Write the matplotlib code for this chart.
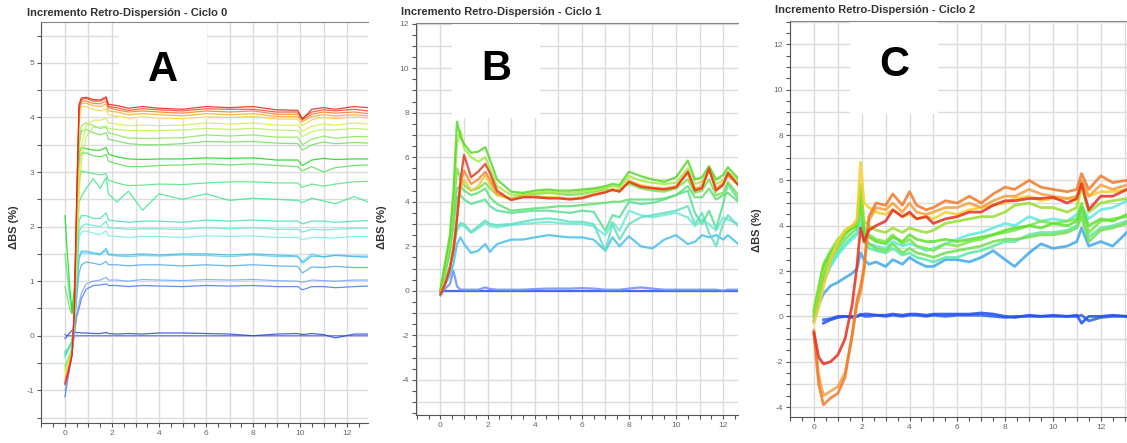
import matplotlib
matplotlib.use('Agg')
import matplotlib.pyplot as plt
from matplotlib.ticker import MultipleLocator, FuncFormatter
import numpy as np

plt.rcParams['font.family'] = ['Liberation Sans', 'DejaVu Sans']

nan = np.nan

titles = ['Incremento Retro-Dispersión - Ciclo 0',
          'Incremento Retro-Dispersión - Ciclo 1',
          'Incremento Retro-Dispersión - Ciclo 2']
letters = ['A', 'B', 'C']
ylabel = 'ΔBS (%)'

# ---- Ciclo 0 (A) ----
a_x = [0, 0.1, 0.2, 0.3, 0.4, 0.5, 0.6, 0.7, 0.9, 1.2, 1.5, 1.75, 1.85, 2.2, 2.7,
       3.3, 4.0, 5.0, 6.0, 7.0, 8.0, 9.0, 9.9, 10.1, 10.5, 11.0, 11.5, 12.3, 12.9]
a_420 = [-0.88, -0.72, -0.55, -0.35, 0.5, 2.6, 4.25, 4.36, 4.37, 4.33, 4.32, 4.38, 4.24, 4.22, 4.17,
         4.2, 4.17, 4.15, 4.2, 4.18, 4.2, 4.14, 4.13, 3.97, 4.15, 4.18, 4.15, 4.2, 4.18]
a_415 = [-0.9, -0.75, -0.56, -0.36, 0.45, 2.5, 4.2, 4.33, 4.35, 4.3, 4.3, 4.35, 4.2, 4.18, 4.13,
         4.16, 4.14, 4.12, 4.16, 4.15, 4.15, 4.1, 4.1, 3.98, 4.1, 4.14, 4.12, 4.15, 4.12]
a_410 = [-0.85, -0.7, -0.52, -0.33, 0.45, 2.4, 4.15, 4.3, 4.3, 4.26, 4.25, 4.3, 4.18, 4.14, 4.1,
         4.12, 4.1, 4.08, 4.12, 4.1, 4.12, 4.06, 4.06, 3.95, 4.06, 4.1, 4.08, 4.1, 4.07]
a_405 = [-0.8, -0.66, -0.5, -0.32, 0.4, 2.3, 4.1, 4.26, 4.26, 4.22, 4.2, 4.25, 4.12, 4.1, 4.05,
         4.07, 4.05, 4.03, 4.07, 4.05, 4.07, 4.02, 4.02, 3.92, 4.02, 4.05, 4.03, 4.05, 4.03]
a_400 = [-0.75, -0.62, -0.46, -0.3, 0.35, 2.1, 3.9, 4.2, 4.2, 4.15, 4.12, 4.15, 4.05, 4.02, 3.99,
         4.01, 3.99, 3.98, 4.01, 4.0, 4.02, 3.97, 3.97, 3.85, 3.96, 4.0, 3.98, 4.01, 3.99]
a_390 = [-0.7, -0.58, -0.44, -0.3, 0.3, 1.6, 2.9, 3.5, 3.85, 3.95, 3.95, 3.98, 3.9, 3.88, 3.85,
         3.86, 3.85, 3.86, 3.9, 3.88, 3.9, 3.86, 3.86, 3.75, 3.84, 3.88, 3.86, 3.9, 3.88]
a_380 = [-0.65, -0.55, -0.42, -0.28, 0.25, 1.3, 2.6, 3.2, 3.65, 3.82, 3.82, 3.85, 3.8, 3.78, 3.76,
         3.76, 3.76, 3.77, 3.8, 3.78, 3.8, 3.77, 3.76, 3.65, 3.74, 3.78, 3.77, 3.8, 3.78]
a_365 = [-0.6, -0.5, -0.4, -0.25, 0.3, 1.8, 3.6, 3.85, 3.9, 3.85, 3.8, 3.82, 3.72, 3.68, 3.62,
         3.62, 3.62, 3.63, 3.68, 3.66, 3.68, 3.64, 3.64, 3.5, 3.6, 3.66, 3.62, 3.65, 3.65]
a_354 = [-0.55, -0.45, -0.35, -0.2, 0.3, 1.8, 3.5, 3.75, 3.78, 3.72, 3.68, 3.72, 3.6, 3.57, 3.52,
         3.5, 3.5, 3.52, 3.56, 3.55, 3.56, 3.53, 3.52, 3.4, 3.5, 3.55, 3.52, 3.54, 3.53]
a_324 = [2.2, 1.5, 0.9, 0.42, 0.9, 2.2, 3.35, 3.45, 3.43, 3.4, 3.4, 3.45, 3.33, 3.28, 3.24,
         3.23, 3.24, 3.24, 3.26, 3.25, 3.26, 3.22, 3.22, 3.12, 3.22, 3.25, 3.23, 3.24, 3.24]
a_313 = [0.9, 0.7, 0.5, 0.4, 0.6, 1.7, 3.2, 3.35, 3.35, 3.3, 3.28, 3.32, 3.2, 3.15, 3.1,
         3.1, 3.12, 3.13, 3.15, 3.13, 3.15, 3.12, 3.1, 3.02, 3.1, 3.0, 3.08, 3.12, 3.13]
a_283 = [1.5, 1.1, 0.7, 0.5, 0.8, 1.8, 2.85, 3.02, 3.0, 2.97, 2.95, 2.97, 2.85, 2.8, 2.75,
         2.76, 2.78, 2.77, 2.8, 2.82, 2.82, 2.8, 2.8, 2.72, 2.78, 2.74, 2.78, 2.82, 2.83]
a_250 = [-0.4, -0.3, -0.2, -0.1, 0.4, 1.4, 2.45, 2.55, 2.7, 2.88, 2.7, 2.9, 2.6, 2.45, 2.65,
         2.3, 2.6, 2.5, 2.6, 2.48, 2.52, 2.5, 2.48, 2.44, 2.52, 2.47, 2.42, 2.55, 2.45]
a_210 = [-0.35, -0.28, -0.2, -0.1, 0.3, 1.2, 2.1, 2.2, 2.2, 2.15, 2.15, 2.25, 2.12, 2.1, 2.08,
         2.1, 2.1, 2.08, 2.12, 2.1, 2.12, 2.1, 2.1, 2.05, 2.1, 2.1, 2.08, 2.1, 2.11]
a_197 = [-0.35, -0.28, -0.2, -0.1, 0.28, 1.1, 1.9, 2.0, 2.05, 2.02, 2.0, 2.1, 1.98, 1.97, 1.95,
         1.96, 1.96, 1.95, 1.98, 1.96, 1.98, 1.95, 1.95, 1.9, 1.95, 1.94, 1.95, 1.97, 1.97]
a_182 = [-0.3, -0.25, -0.18, -0.1, 0.25, 1.0, 1.8, 1.9, 1.92, 1.88, 1.85, 1.92, 1.83, 1.82, 1.8,
         1.82, 1.82, 1.8, 1.83, 1.82, 1.83, 1.8, 1.8, 1.76, 1.8, 1.8, 1.79, 1.82, 1.82]
a_146 = [-0.3, -0.25, -0.2, -0.1, 0.2, 0.9, 1.45, 1.55, 1.55, 1.52, 1.5, 1.6, 1.5, 1.48, 1.48,
         1.5, 1.48, 1.5, 1.5, 1.48, 1.5, 1.48, 1.46, 1.33, 1.46, 1.45, 1.47, 1.45, 1.44]
a_144 = [-0.3, -0.25, -0.2, -0.1, 0.2, 0.9, 1.4, 1.52, 1.52, 1.5, 1.48, 1.56, 1.48, 1.46, 1.45,
         1.47, 1.46, 1.48, 1.47, 1.45, 1.48, 1.45, 1.45, 1.36, 1.5, 1.44, 1.48, 1.46, 1.46]
a_127 = [-0.3, -0.25, -0.2, -0.12, 0.15, 0.7, 1.15, 1.3, 1.35, 1.33, 1.3, 1.36, 1.3, 1.3, 1.28,
         1.3, 1.3, 1.28, 1.3, 1.28, 1.3, 1.28, 1.27, 1.15, 1.26, 1.25, 1.27, 1.25, 1.25]
a_102 = [-1.0, -0.8, -0.58, -0.35, 0.05, 0.4, 0.6, 0.78, 0.95, 1.0, 1.02, 1.07, 1.02, 1.02, 1.0,
         1.03, 1.02, 1.01, 1.03, 1.02, 1.03, 1.01, 1.0, 0.98, 1.02, 1.01, 1.0, 1.02, 1.02]
a_091 = [-1.12, -0.85, -0.6, -0.35, 0.05, 0.35, 0.5, 0.68, 0.85, 0.92, 0.93, 0.95, 0.92, 0.92, 0.9,
         0.92, 0.91, 0.9, 0.92, 0.91, 0.92, 0.9, 0.9, 0.84, 0.9, 0.9, 0.88, 0.9, 0.91]
a_004 = [-0.05, 0.0, 0.05, 0.1, 0.08, 0.05, 0.06, 0.05, 0.05, 0.04, 0.04, 0.06, 0.04, 0.03, 0.04,
         0.03, 0.05, 0.05, 0.04, 0.03, 0.0, 0.03, 0.04, 0.02, 0.04, 0.02, -0.04, 0.03, 0.03]
a_000 = [0.02, 0.0, 0.0, 0.0, 0.0, 0.0, 0.0, 0.0, 0.0, 0.0, 0.0, 0.0, 0.0, 0.0, 0.0,
         0.0, 0.0, 0.0, 0.0, 0.0, 0.0, 0.0, 0.0, 0.0, 0.0, 0.0, 0.0, 0.0, 0.0]
a_series = [a_000, a_004, a_091, a_102, a_127, a_144, a_146, a_182, a_197, a_210, a_250, a_283,
            a_313, a_324, a_354, a_365, a_380, a_390, a_400, a_405, a_410, a_415, a_420]
a_colors = ['#5868f0', '#2848e8', '#4878f0', '#78a8f8', '#50a8f0', '#60d0f4', '#38c0f0', '#78ecec',
            '#60e8d0', '#48e0b0', '#40e890', '#50e880', '#58e058', '#18d818', '#70e060', '#88e858',
            '#b8f060', '#d8ec48', '#f0d840', '#f8a83a', '#f57a30', '#f04a22', '#e8201a']

# ---- Ciclo 1 (B) ----
b_x = [0, 0.2, 0.4, 0.55, 0.7, 0.85, 1.0, 1.3, 1.6, 1.9, 2.1, 2.4, 3.0, 3.5, 4.0, 4.6, 5.0, 5.5,
       6.0, 6.5, 7.0, 7.3, 7.6, 8.0, 8.5, 9.0, 9.5, 10.0, 10.5, 10.8, 11.1, 11.4, 11.7, 12.0, 12.2, 12.64]
b_red = [-0.15, 0.3, 1.0, 1.8, 3.2, 5.0, 6.1, 5.1, 5.35, 5.7, 5.3, 4.5, 4.07, 4.2, 4.2, 4.15, 4.15, 4.1,
         4.15, 4.3, 4.42, 4.55, 4.45, 4.9, 4.67, 4.6, 4.55, 4.65, 5.35, 4.5, 4.6, 5.5, 4.5, 4.75, 5.3, 4.75]
b_green1 = [0.1, 1.3, 2.5, 4.5, 7.6, 6.9, 6.6, 6.2, 6.25, 6.45, 5.9, 5.0, 4.45, 4.4, 4.5, 4.55, 4.5, 4.5,
            4.55, 4.6, 4.7, 4.8, 4.75, 5.35, 5.15, 5.0, 4.9, 5.1, 5.85, 5.0, 5.1, 5.6, 5.0, 5.2, 5.55, 5.05]
b_ygreen = [0.05, 1.1, 2.2, 4.0, 6.6, 7.2, 6.4, 6.0, 5.8, 6.0, 5.5, 4.7, 4.3, 4.35, 4.4, 4.45, 4.4, 4.4,
            4.45, 4.55, 4.6, 4.7, 4.65, 5.15, 4.95, 4.85, 4.8, 4.85, 5.5, 4.8, 4.9, 5.45, 4.8, 4.95, 5.35, 4.95]
b_yellow = [-0.1, 0.4, 1.1, 2.0, 3.3, 4.6, 5.0, 4.5, 4.7, 5.2, 4.8, 4.3, 4.12, 4.25, 4.25, 4.2, 4.2, 4.15,
            4.2, 4.35, 4.45, 4.55, 4.5, 4.95, 4.75, 4.65, 4.6, 4.7, 5.3, 4.6, 4.7, 5.45, 4.6, 4.85, 5.2, 4.8]
b_orange = [-0.1, 0.35, 1.05, 1.9, 3.3, 4.8, 5.4, 4.8, 5.0, 5.35, 5.0, 4.4, 4.1, 4.22, 4.22, 4.17, 4.17, 4.12,
            4.18, 4.32, 4.43, 4.52, 4.47, 4.9, 4.7, 4.62, 4.57, 4.65, 5.3, 4.55, 4.65, 5.45, 4.55, 4.8, 5.2, 4.75]
b_green2 = [0.0, 1.0, 2.0, 3.6, 5.5, 5.0, 4.75, 4.5, 4.6, 4.85, 4.6, 4.3, 4.15, 4.3, 4.35, 4.4, 4.35, 4.3,
            4.35, 4.45, 4.55, 4.5, 4.55, 4.8, 4.6, 4.5, 4.45, 4.6, 5.0, 4.4, 4.5, 5.0, 4.3, 4.4, 4.9, 4.3]
b_green3 = [0.0, 0.9, 1.9, 3.3, 4.6, 4.7, 4.5, 4.3, 4.4, 4.6, 4.2, 3.9, 3.6, 3.65, 3.7, 3.75, 3.8, 3.8,
            3.85, 3.9, 3.95, 4.0, 4.0, 4.1, 4.1, 4.1, 4.15, 4.3, 4.7, 4.2, 4.2, 4.6, 4.1, 4.3, 4.4, 4.0]
b_gteal = [0.0, 0.8, 1.7, 2.9, 4.2, 4.3, 4.1, 3.9, 4.0, 4.1, 3.8, 3.6, 3.5, 3.55, 3.6, 3.6, 3.55, 3.5,
           3.6, 3.55, 2.7, 3.4, 3.3, 4.0, 3.9, 3.95, 4.1, 4.3, 4.5, 3.5, 3.0, 3.6, 2.8, 3.9, 4.8, 4.1]
b_teal1 = [-0.1, 0.5, 1.1, 1.9, 2.8, 3.05, 3.0, 2.65, 2.9, 3.15, 3.0, 2.95, 3.0, 3.1, 3.2, 3.25, 3.2, 3.1,
           3.1, 3.0, 1.8, 3.0, 2.3, 3.0, 3.3, 3.4, 3.5, 3.6, 3.8, 3.0, 3.5, 2.6, 2.0, 3.0, 3.4, 2.9]
b_teal2 = [-0.1, 0.45, 1.0, 1.8, 2.7, 2.95, 2.9, 2.6, 2.8, 3.05, 2.9, 2.85, 2.95, 3.0, 3.05, 3.1, 3.05, 3.0,
           3.0, 2.9, 2.5, 3.1, 2.7, 3.6, 3.4, 3.3, 3.4, 3.5, 3.3, 2.9, 3.2, 3.0, 2.7, 3.3, 3.2, 3.0]
b_cyan = [-0.2, 0.3, 0.7, 1.2, 2.1, 2.4, 2.1, 1.7, 1.8, 2.1, 1.75, 2.1, 2.3, 2.3, 2.4, 2.5, 2.45, 2.4,
          2.4, 2.3, 1.8, 2.4, 2.0, 2.45, 2.0, 1.9, 2.3, 2.5, 2.1, 2.2, 2.5, 2.4, 2.5, 2.3, 2.5, 2.1]
b_blue = [-0.2, 0.1, 0.3, 0.9, 0.2, 0.05, 0.05, 0.05, 0.05, 0.15, 0.08, 0.05, 0.05, 0.05, 0.08, 0.1, 0.1, 0.1,
          0.12, 0.1, 0.05, 0.05, 0.05, 0.1, 0.15, 0.1, 0.05, 0.05, 0.05, 0.05, 0.05, 0.05, 0.05, 0.0, 0.05, 0.05]
b_flat = [0.0, 0.0, 0.0, 0.0, 0.0, 0.0, 0.0, 0.0, 0.0, 0.0, 0.0, 0.0, 0.0, 0.0, 0.0, 0.0, 0.0, 0.0,
          0.0, 0.0, 0.0, 0.0, 0.0, 0.0, 0.0, 0.0, 0.0, 0.0, 0.0, 0.0, 0.0, 0.0, 0.0, 0.0, 0.0, 0.0]
b_series = [b_flat, b_blue, b_cyan, b_teal2, b_teal1, b_gteal, b_green3, b_green2, b_ygreen, b_green1,
            b_yellow, b_orange, b_red]
b_colors = ['#3050f0', '#6890f8', '#48c0f0', '#70e8d8', '#60e0c0', '#58e098', '#60e070', '#78e050',
            '#a8e840', '#58d828', '#f0c838', '#f08a30', '#e63a1e']

# ---- Ciclo 2 (C) ----
c_x = [0, 0.2, 0.4, 0.7, 1.0, 1.3, 1.6, 1.8, 1.95, 2.1, 2.3, 2.6, 3.0, 3.3, 3.7, 4.0, 4.3, 4.7,
       5.0, 5.5, 6.0, 6.5, 7.0, 7.5, 8.0, 8.4, 9.0, 9.5, 10.0, 10.6, 11.0, 11.2, 11.5, 12.0, 12.5, 13.1]
c_orange = [-0.8, -3.0, -3.9, -3.6, -3.4, -2.7, -0.8, 0.7, 1.3, 2.2, 4.4, 5.0, 4.9, 5.4, 4.9, 5.5, 4.9, 4.7,
            4.8, 5.1, 5.0, 5.3, 5.0, 5.4, 5.7, 5.6, 6.0, 5.7, 5.6, 5.5, 5.6, 6.3, 5.6, 6.2, 5.9, 6.0]
c_orange2 = [-0.6, -2.6, -3.5, -3.3, -3.1, -2.5, -0.9, 0.5, 1.0, 2.0, 4.2, 4.8, 4.7, 5.0, 4.6, 5.0, 4.6, 4.5,
             4.6, 4.8, 4.8, 5.0, 4.8, 5.1, 5.3, 5.3, 5.6, 5.4, 5.3, 5.2, 5.3, 6.0, 5.3, 5.8, 5.6, 5.8]
c_red = [-0.7, -1.8, -2.1, -2.0, -1.7, -1.0, 0.5, 2.2, 3.9, 3.3, 3.8, 4.0, 4.2, 4.7, 4.4, 4.6, 4.3, 4.4,
         4.1, 4.3, 4.4, 4.6, 4.6, 4.9, 5.1, 5.1, 5.2, 5.2, 5.25, 5.0, 5.2, 5.85, 4.7, 5.3, 5.3, 5.6]
c_yellow = [-0.3, 0.4, 1.3, 2.5, 3.3, 3.8, 4.0, 4.3, 6.8, 5.0, 4.8, 4.6, 4.5, 4.7, 4.4, 4.5, 4.3, 4.4,
            4.3, 4.6, 4.5, 4.7, 4.8, 4.9, 5.0, 5.2, 5.3, 5.1, 5.2, 5.2, 5.1, 5.9, 5.3, 5.5, 5.5, 5.6]
c_ygreen = [0.0, 1.0, 2.0, 2.6, 3.2, 3.8, 4.0, 4.1, 5.8, 4.2, 4.0, 3.8, 3.7, 3.9, 3.7, 3.9, 3.8, 3.7,
            3.8, 4.1, 4.2, 4.3, 4.4, 4.4, 4.6, 4.9, 5.0, 4.8, 4.8, 4.6, 4.8, 5.7, 4.6, 5.0, 5.1, 5.2]
c_green_mid = [0.2, 1.2, 2.2, 2.8, 3.2, 3.6, 3.9, 4.0, 5.5, 3.7, 3.5, 3.3, 3.2, 3.5, 3.3, 3.6, 3.4, 3.3,
               3.3, 3.4, 3.3, 3.4, 3.5, 3.6, 3.8, 3.9, 4.0, 3.9, 4.1, 4.0, 4.2, 4.8, 4.0, 4.3, 4.2, 4.5]
c_green2 = [0.3, 1.3, 2.3, 2.9, 3.4, 3.7, 3.9, 4.1, 5.2, 3.9, 3.6, 3.4, 3.3, 3.6, 3.2, 3.4, 3.1, 3.0,
            2.9, 3.2, 3.1, 3.3, 3.4, 3.6, 3.7, 3.8, 4.0, 4.2, 4.1, 4.2, 4.3, 5.0, 3.7, 4.2, 4.3, 4.4]
c_green_low = [0.0, 0.9, 1.8, 2.5, 3.0, 3.4, 3.7, 3.9, 5.0, 3.5, 3.2, 3.0, 2.9, 3.2, 2.8, 3.0, 2.8, 2.7,
               2.6, 2.8, 2.9, 3.0, 3.1, 3.3, 3.4, 3.4, 3.5, 3.6, 3.6, 3.7, 3.9, 4.4, 3.3, 3.8, 3.9, 4.1]
c_cyan = [0.0, 0.7, 1.5, 2.2, 2.7, 3.1, 3.4, 3.6, 4.2, 3.4, 3.2, 3.1, 3.0, 3.3, 3.1, 3.2, 3.1, 2.9,
          3.0, 3.2, 3.4, 3.6, 3.7, 3.9, 4.1, 4.0, 4.4, 4.2, 4.3, 4.2, 4.5, 4.9, 4.3, 4.7, 4.8, 5.1]
c_teal = [0.1, 0.8, 1.6, 2.3, 2.8, 3.2, 3.5, 3.7, 4.5, 3.3, 3.0, 2.9, 2.8, 3.0, 2.7, 2.8, 2.6, 2.5,
          2.4, 2.6, 2.6, 2.8, 2.9, 3.1, 3.3, 3.3, 3.6, 3.7, 3.7, 3.8, 4.0, 4.6, 3.5, 3.9, 4.0, 4.2]
c_lblue = [-0.2, 0.5, 1.0, 1.35, 1.5, 1.7, 1.9, 2.1, 2.8, 2.5, 2.3, 2.4, 2.2, 2.5, 2.3, 2.6, 2.4, 2.2,
           2.2, 2.5, 2.5, 2.4, 2.6, 2.9, 2.5, 2.2, 2.8, 3.2, 3.0, 3.1, 3.3, 3.9, 3.1, 3.3, 3.1, 3.7]
c_blue = [nan, nan, -0.3, -0.15, -0.05, 0.0, 0.0, 0.0, 0.05, 0.1, 0.1, 0.05, 0.05, 0.1, 0.05, 0.1, 0.1, 0.05,
          0.1, 0.1, 0.1, 0.1, 0.15, 0.1, 0.0, -0.05, 0.05, 0.0, 0.05, 0.0, 0.05, -0.3, 0.0, 0.0, 0.05, 0.0]
c_blue2 = [nan, nan, -0.15, -0.1, 0.0, 0.0, -0.05, 0.0, 0.1, 0.0, 0.0, 0.05, 0.0, 0.05, 0.0, 0.05, 0.05, 0.0,
           0.05, 0.0, 0.05, 0.05, 0.05, 0.0, -0.05, 0.0, 0.0, 0.0, 0.0, 0.0, 0.0, 0.05, -0.2, -0.05, 0.0, 0.0]
c_series = [c_blue2, c_blue, c_lblue, c_teal, c_cyan, c_green_low, c_green2, c_green_mid, c_ygreen,
            c_yellow, c_orange2, c_orange, c_red]
c_colors = ['#3060f0', '#2050f0', '#40a8f0', '#60e8a8', '#60e8e0', '#70e050', '#78e848', '#60e030',
            '#98e030', '#f5d030', '#f5a040', '#f07a2a', '#e53020']


def even_label(v, pos):
    n = int(round(v))
    return str(n) if abs(v - n) < 1e-6 and n % 2 == 0 else ''


def int_label(v, pos):
    n = int(round(v))
    return str(n) if abs(v - n) < 1e-6 else ''


W, H = 1127, 443
fig = plt.figure(figsize=(W / 100, H / 100), dpi=100)

# pixel boxes: left, top, right, bottom
boxes = [(41, 22, 368, 423), (416, 23, 738, 415), (790, 21, 1127, 417)]
xlims = [(-1.02, 12.89), (-1.04, 12.63), (-1.0, 13.1)]
ylims = [(-1.6, 5.75), (-5.58, 12.03), (-4.44, 13.03)]
ysteps = [0.5, 1, 1]
ylabfmt = [int_label, even_label, even_label]
lws = [0.9, 1.6, 2.0]
title_pos = [(27, 13), (401, 12), (775, 10)]
ylabel_pos = [(14, 227), (382, 227), (757, 230)]
letter_pos = [(163, 70), (496, 69), (894, 65)]

data = [(a_x, a_series, a_colors), (b_x, b_series, b_colors), (c_x, c_series, c_colors)]

for i in range(3):
    l, t, r, b = boxes[i]
    ax = fig.add_axes([l / W, 1 - b / H, (r - l) / W, (b - t) / H])
    x, series, colors = data[i]
    for ys, col in zip(series, colors):
        ax.plot(x, ys, color=col, lw=lws[i], alpha=0.85, solid_joinstyle='round')
    ax.set_xlim(*xlims[i])
    ax.set_ylim(*ylims[i])

    ax.xaxis.set_major_locator(MultipleLocator(1))
    ax.xaxis.set_minor_locator(MultipleLocator(0.5))
    ax.xaxis.set_major_formatter(FuncFormatter(even_label))
    ax.yaxis.set_major_locator(MultipleLocator(ysteps[i]))
    ax.yaxis.set_minor_locator(MultipleLocator(0.5))
    ax.yaxis.set_major_formatter(FuncFormatter(ylabfmt[i]))
    ax.grid(True, which='major', color='#dcdcdc', lw=1.0)
    ax.set_axisbelow(True)
    ax.tick_params(which='both', direction='out', length=3, width=0.8, color='#555555',
                   labelsize=6, labelcolor='#666666', pad=2)
    ax.spines['right'].set_visible(False)
    ax.spines['top'].set_color('#888888')
    ax.spines['left'].set_color('#555555')
    ax.spines['bottom'].set_color('#555555')

    lx, ly = letter_pos[i]
    ax.text(lx / W, 1 - ly / H, letters[i], transform=fig.transFigure, fontsize=30,
            fontweight='bold', ha='center', va='center', zorder=1.5,
            bbox=dict(facecolor='white', edgecolor='none', boxstyle='square,pad=0.7'))

    tx, ty = title_pos[i]
    fig.text(tx / W, 1 - ty / H, titles[i], fontsize=8, fontweight='bold', color='#333333',
             ha='left', va='center')
    yx, yy = ylabel_pos[i]
    fig.text(yx / W, 1 - yy / H, ylabel, fontsize=8, fontweight='bold', color='#333333',
             rotation=90, ha='center', va='center')

fig.savefig('out.png', dpi=100)
